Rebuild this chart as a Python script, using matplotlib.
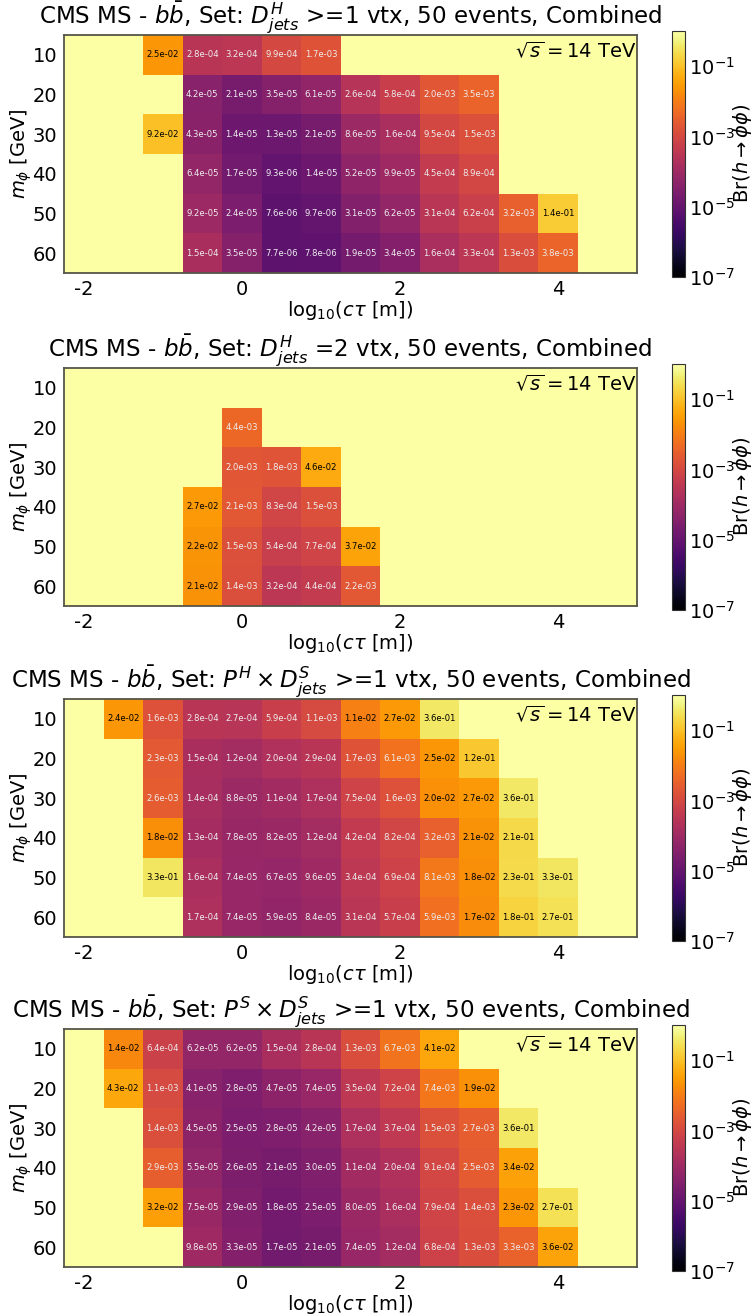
import numpy as np
import matplotlib
matplotlib.use("Agg")
import matplotlib.pyplot as plt
from matplotlib.colors import LogNorm
from matplotlib.cm import ScalarMappable

plt.rcParams['axes.unicode_minus'] = False
plt.rcParams['font.family'] = ['DejaVu Sans']

_ = np.nan

# log10(c*tau [m]) column centres and scalar masses (GeV)
log_ctau = [-2.0, -1.5, -1.0, -0.5, 0.0, 0.5, 1.0, 1.5, 2.0, 2.5, 3.0, 3.5, 4.0, 4.5]
m_phi = [10, 20, 30, 40, 50, 60]

# Br(h -> phi phi) limits, one row per mass
br_dh_ge1 = [
    [_, _, 2.5e-2, 2.8e-4, 3.2e-4, 9.9e-4, 1.7e-3, _, _, _, _, _, _, _],
    [_, _, _, 4.2e-5, 2.1e-5, 3.5e-5, 6.1e-5, 2.6e-4, 5.8e-4, 2.0e-3, 3.5e-3, _, _, _],
    [_, _, 9.2e-2, 4.3e-5, 1.4e-5, 1.3e-5, 2.1e-5, 8.6e-5, 1.6e-4, 9.5e-4, 1.5e-3, _, _, _],
    [_, _, _, 6.4e-5, 1.7e-5, 9.3e-6, 1.4e-5, 5.2e-5, 9.9e-5, 4.5e-4, 8.9e-4, _, _, _],
    [_, _, _, 9.2e-5, 2.4e-5, 7.6e-6, 9.7e-6, 3.1e-5, 6.2e-5, 3.1e-4, 6.2e-4, 3.2e-3, 1.4e-1, _],
    [_, _, _, 1.5e-4, 3.5e-5, 7.7e-6, 7.8e-6, 1.9e-5, 3.4e-5, 1.6e-4, 3.3e-4, 1.3e-3, 3.8e-3, _],
]

br_dh_eq2 = [
    [_, _, _, _, _, _, _, _, _, _, _, _, _, _],
    [_, _, _, _, 4.4e-3, _, _, _, _, _, _, _, _, _],
    [_, _, _, _, 2.0e-3, 1.8e-3, 4.6e-2, _, _, _, _, _, _, _],
    [_, _, _, 2.7e-2, 2.1e-3, 8.3e-4, 1.5e-3, _, _, _, _, _, _, _],
    [_, _, _, 2.2e-2, 1.5e-3, 5.4e-4, 7.7e-4, 3.7e-2, _, _, _, _, _, _],
    [_, _, _, 2.1e-2, 1.4e-3, 3.2e-4, 4.4e-4, 2.2e-3, _, _, _, _, _, _],
]

br_ph_ds_ge1 = [
    [_, 2.4e-2, 1.6e-3, 2.8e-4, 2.7e-4, 5.9e-4, 1.1e-3, 1.1e-2, 2.7e-2, 3.6e-1, _, _, _, _],
    [_, _, 2.3e-3, 1.5e-4, 1.2e-4, 2.0e-4, 2.9e-4, 1.7e-3, 6.1e-3, 2.5e-2, 1.2e-1, _, _, _],
    [_, _, 2.6e-3, 1.4e-4, 8.8e-5, 1.1e-4, 1.7e-4, 7.5e-4, 1.6e-3, 2.0e-2, 2.7e-2, 3.6e-1, _, _],
    [_, _, 1.8e-2, 1.3e-4, 7.8e-5, 8.2e-5, 1.2e-4, 4.2e-4, 8.2e-4, 3.2e-3, 2.1e-2, 2.1e-1, _, _],
    [_, _, 3.3e-1, 1.6e-4, 7.4e-5, 6.7e-5, 9.6e-5, 3.4e-4, 6.9e-4, 8.1e-3, 1.8e-2, 2.3e-1, 3.3e-1, _],
    [_, _, _, 1.7e-4, 7.4e-5, 5.9e-5, 8.4e-5, 3.1e-4, 5.7e-4, 5.9e-3, 1.7e-2, 1.8e-1, 2.7e-1, _],
]

br_ps_ds_ge1 = [
    [_, 1.4e-2, 6.4e-4, 6.2e-5, 6.2e-5, 1.5e-4, 2.8e-4, 1.3e-3, 6.7e-3, 4.1e-2, _, _, _, _],
    [_, 4.3e-2, 1.1e-3, 4.1e-5, 2.8e-5, 4.7e-5, 7.4e-5, 3.5e-4, 7.2e-4, 7.4e-3, 1.9e-2, _, _, _],
    [_, _, 1.4e-3, 4.5e-5, 2.5e-5, 2.8e-5, 4.2e-5, 1.7e-4, 3.7e-4, 1.5e-3, 2.7e-3, 3.6e-1, _, _],
    [_, _, 2.9e-3, 5.5e-5, 2.6e-5, 2.1e-5, 3.0e-5, 1.1e-4, 2.0e-4, 9.1e-4, 2.5e-3, 3.4e-2, _, _],
    [_, _, 3.2e-2, 7.5e-5, 2.9e-5, 1.8e-5, 2.5e-5, 8.0e-5, 1.6e-4, 7.9e-4, 1.4e-3, 2.3e-2, 2.7e-1, _],
    [_, _, _, 9.8e-5, 3.3e-5, 1.7e-5, 2.1e-5, 7.4e-5, 1.2e-4, 6.8e-4, 1.3e-3, 3.3e-3, 3.6e-2, _],
]

panel_data = [br_dh_ge1, br_dh_eq2, br_ph_ds_ge1, br_ps_ds_ge1]
panel_sets = [
    r"$D^{H}_{jets}$ >=1 vtx",
    r"$D^{H}_{jets}$ =2 vtx",
    r"$P^{H} \times D^{S}_{jets}$ >=1 vtx",
    r"$P^{S} \times D^{S}_{jets}$ >=1 vtx",
]

W, H = 755, 1316
cmap = plt.get_cmap("inferno")
norm = LogNorm(vmin=1e-7, vmax=1.0)


def cell_edges(centres, half):
    c = np.asarray(centres, dtype=float)
    return np.append(c - half, c[-1] + half)


def draw_panel(fig, top_px, data, set_label):
    bottom_px = top_px + 238
    ax = fig.add_axes([64 / W, 1 - bottom_px / H, 573 / W, 238 / H])
    cax = fig.add_axes([672 / W, 1 - (bottom_px + 4) / H, 13 / W, 246 / H])

    vals = np.ma.masked_invalid(np.array(data, dtype=float))
    ax.set_facecolor(cmap(1.0))
    ax.pcolormesh(cell_edges(log_ctau, 0.25), cell_edges(m_phi, 5), vals,
                  cmap=cmap, norm=norm, shading="flat")

    # value label in every filled cell
    for i, m in enumerate(m_phi):
        for j, x in enumerate(log_ctau):
            v = data[i][j]
            if np.isnan(v):
                continue
            col = "black" if v > 1e-2 else "#eeeeee"
            ax.text(x, m, f"{v:.1e}", ha="center", va="center",
                    fontsize=6.1, color=col)

    ax.set_xlim(-2.25, 5.0)
    ax.set_ylim(65, 5)
    ax.set_xticks([-2, 0, 2, 4])
    ax.set_yticks(m_phi)
    ax.tick_params(length=0, labelsize=14, pad=5)
    for s in ax.spines.values():
        s.set_color("#555548")
        s.set_linewidth(1.3)

    ax.set_xlabel(r"$\mathrm{log}_{10}(c\tau$ [m])", fontsize=14, labelpad=0)
    ax.set_ylabel(r"$m_{\phi}$ [GeV]", fontsize=14, labelpad=-1)
    ax.set_title(r"CMS MS - $b\bar{b}$, Set: " + set_label + ", 50 events, Combined",
                 fontsize=16.6, pad=6)
    ax.text(0.999, 0.975, r"$\sqrt{s} = 14$ TeV", transform=ax.transAxes,
            ha="right", va="top", fontsize=14)

    cb = fig.colorbar(ScalarMappable(norm=norm, cmap=cmap), cax=cax)
    cb.set_ticks([1e-7, 1e-5, 1e-3, 1e-1])
    cb.ax.minorticks_off()
    cb.ax.tick_params(labelsize=14, length=0, pad=3)
    cb.outline.set_edgecolor("#333333")
    cb.set_label(r"Br($h \rightarrow \phi\phi$)", fontsize=14, labelpad=-3)
    return ax


def main():
    fig = plt.figure(figsize=(W / 100, H / 100), dpi=100)
    tops = [35, 368, 699, 1029]
    for top, data, label in zip(tops, panel_data, panel_sets):
        draw_panel(fig, top, data, label)
    fig.savefig("out.png", dpi=100)


if __name__ == "__main__":
    main()
